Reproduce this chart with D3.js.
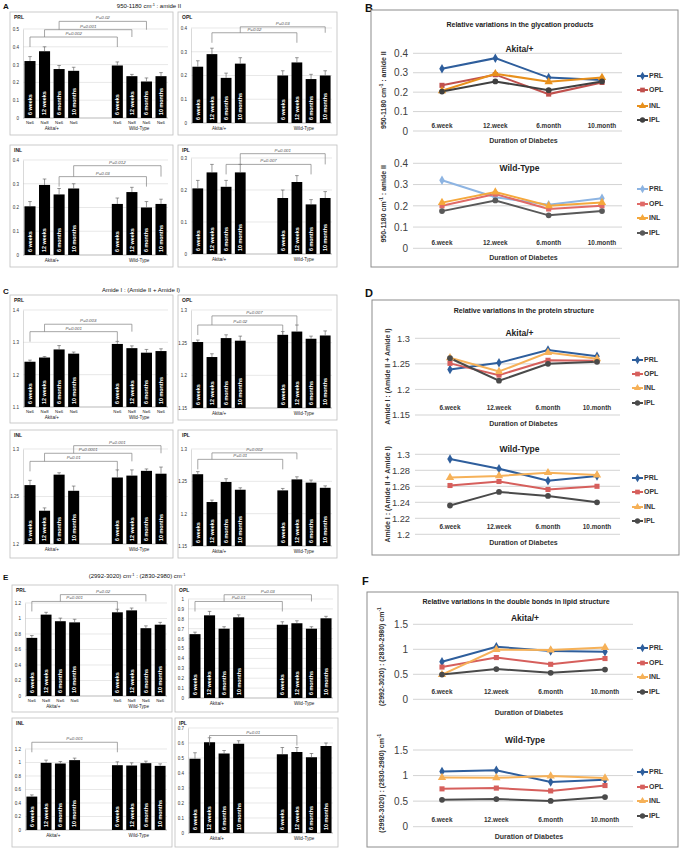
<!DOCTYPE html>
<html><head><meta charset="utf-8">
<script src="https://cdn.jsdelivr.net/npm/d3@7"></script>
<style>body{margin:0;background:#fff} svg{display:block;font-family:"Liberation Sans",Arial,sans-serif}</style>
</head><body><svg id="c" width="685" height="848"></svg>
<script>
// ---------- DATA ----------
const barLabels = ["6 weeks","12 weeks","6 months","10 months"];
const nLabels = ["N=6","N=8","N=6","N=6"];
const groupLabels = ["Akita/+","Wild-Type"];
const layers = ["PRL","OPL","INL","IPL"];
const lineCategories = ["6.week","12.week","6.month","10.month"];

// Panel A : 950-1180 cm-1 : amide II  (Akita 6w,12w,6m,10m, WT 6w,12w,6m,10m)
const A_PRL = [0.32,0.375,0.275,0.265,0.295,0.235,0.205,0.235];
const A_PRL_err = [0.025,0.025,0.02,0.02,0.02,0.01,0.02,0.02];
const A_PRL_ticks = [0,0.1,0.2,0.3,0.4,0.5];
const A_PRL_sig = [[0,4,"P=0.002",0.455],[1,5,"P=0.001",0.496],[2,6,"P=0.02",0.543]];
const A_OPL = [0.237,0.29,0.19,0.25,0.2,0.255,0.185,0.2];
const A_OPL_err = [0.025,0.025,0.02,0.025,0.02,0.02,0.02,0.02];
const A_OPL_ticks = [0,0.1,0.2,0.3,0.4];
const A_OPL_sig = [[1,5,"P=0.02",0.38],[3,7,"P=0.03",0.405]];
const A_INL = [0.205,0.295,0.255,0.28,0.215,0.265,0.2,0.215];
const A_INL_err = [0.02,0.025,0.025,0.02,0.025,0.02,0.025,0.02];
const A_INL_ticks = [0,0.1,0.2,0.3,0.4];
const A_INL_sig = [[2,6,"P=0.03",0.33],[3,7,"P=0.012",0.376]];
const A_IPL = [0.205,0.255,0.21,0.255,0.175,0.225,0.155,0.175];
const A_IPL_err = [0.025,0.025,0.02,0.025,0.025,0.02,0.015,0.02];
const A_IPL_ticks = [0,0.1,0.2,0.3];
const A_IPL_sig = [[2,6,"P=0.007",0.28],[3,7,"P=0.001",0.3135]];

// Panel C : Amide I : (Amide II + Amide I)
const C_PRL = [1.24,1.253,1.278,1.265,1.295,1.282,1.268,1.273];
const C_PRL_err = [0.005,0.003,0.012,0.005,0.008,0.007,0.01,0.007];
const C_PRL_ticks = [1.1,1.2,1.3,1.4];
const C_PRL_sig = [[0,4,"P=0.001",1.333],[1,5,"P=0.003",1.356]];
const C_OPL = [1.251,1.228,1.257,1.253,1.262,1.267,1.256,1.261];
const C_OPL_err = [0.003,0.005,0.005,0.007,0.005,0.01,0.004,0.007];
const C_OPL_ticks = [1.15,1.2,1.25,1.3];
const C_OPL_sig = [[0,4,"P=0.02",1.277],[1,5,"P=0.007",1.291]];
const C_INL = [1.262,1.235,1.273,1.256,1.27,1.272,1.277,1.274];
const C_INL_err = [0.005,0.003,0.002,0.005,0.008,0.006,0.002,0.007];
const C_INL_ticks = [1.2,1.25,1.3];
const C_INL_sig = [[0,4,"P=0.01",1.287],[1,5,"P=0.0001",1.2955],[3,7,"P=0.001",1.3035]];
const C_IPL = [1.261,1.218,1.249,1.237,1.236,1.253,1.248,1.24];
const C_IPL_err = [0.004,0.003,0.005,0.003,0.003,0.004,0.004,0.003];
const C_IPL_ticks = [1.15,1.2,1.25,1.3];
const C_IPL_sig = [[0,4,"P=0.01",1.284],[1,5,"P=0.002",1.294]];

// Panel E : (2992-3020) cm-1 : (2830-2980) cm-1
const E_PRL = [0.75,1.05,0.965,0.95,1.08,1.105,0.875,0.92];
const E_PRL_err = [0.03,0.03,0.04,0.04,0.04,0.03,0.03,0.03];
const E_PRL_ticks = [0,0.2,0.4,0.6,0.8,1,1.2];
const E_PRL_sig = [[0,4,"P=0.001",1.22],[2,6,"P=0.02",1.308]];
const E_OPL = [0.645,0.835,0.7,0.815,0.74,0.755,0.7,0.805];
const E_OPL_err = [0.02,0.04,0.02,0.025,0.03,0.025,0.02,0.02];
const E_OPL_ticks = [0,0.1,0.2,0.3,0.4,0.5,0.6,0.7,0.8,0.9,1];
const E_OPL_sig = [[0,4,"P=0.01",0.975],[2,6,"P=0.03",1.043]];
const E_INL = [0.495,0.995,0.985,1.035,0.96,0.955,0.99,0.95];
const E_INL_err = [0.025,0.04,0.03,0.03,0.05,0.04,0.03,0.03];
const E_INL_ticks = [0,0.2,0.4,0.6,0.8,1,1.2];
const E_INL_sig = [[0,4,"P=0.001",1.3]];
const E_IPL = [0.495,0.605,0.53,0.595,0.525,0.54,0.505,0.58];
const E_IPL_err = [0.04,0.03,0.02,0.02,0.045,0.03,0.025,0.02];
const E_IPL_ticks = [0,0.1,0.2,0.3,0.4,0.5,0.6,0.7];
const E_IPL_sig = [[1,5,"P=0.01",0.65]];

// Line panels (rows: PRL, OPL, INL, IPL; columns: 6.week,12.week,6.month,10.month)
const B_akita = [[0.32,0.375,0.275,0.262],[0.235,0.29,0.19,0.25],[0.207,0.295,0.253,0.275],[0.203,0.255,0.21,0.255]];
const B_wt = [[0.32,0.24,0.205,0.235],[0.2,0.255,0.185,0.2],[0.215,0.265,0.2,0.215],[0.175,0.225,0.155,0.175]];
const B_ticks = [0,0.1,0.2,0.3,0.4];
const D_akita = [[1.239,1.252,1.277,1.265],[1.251,1.228,1.257,1.256],[1.262,1.235,1.272,1.26],[1.261,1.217,1.25,1.254]];
const D_wt = [[1.294,1.282,1.267,1.273],[1.261,1.266,1.256,1.26],[1.271,1.273,1.277,1.274],[1.236,1.253,1.248,1.24]];
const D_ticks_akita = [1.15,1.2,1.25,1.3];
const D_ticks_wt = [1.2,1.22,1.24,1.26,1.28,1.3];
const F_akita = [[0.75,1.05,0.965,0.95],[0.645,0.835,0.7,0.815],[0.495,0.995,0.985,1.035],[0.495,0.605,0.53,0.595]];
const F_wt = [[1.08,1.105,0.875,0.92],[0.74,0.755,0.7,0.805],[0.96,0.955,0.99,0.95],[0.525,0.54,0.505,0.58]];
const F_ticks = [0,0.5,1,1.5];

// ---------- DRAWING ----------
const svg = d3.select("#c");
const fmt = d => String(+(+d).toFixed(2));

function rich(sel, parts, size) {
  let prevSup = false;
  parts.forEach(([t, sup]) => {
    const ts = sel.append("tspan").text(t);
    if (sup) { ts.attr("font-size", size * 0.65).attr("dy", -size * 0.38); }
    else if (prevSup) { ts.attr("dy", size * 0.38); }
    prevSup = sup;
  });
  return sel;
}

function barChart(L, name, vals, errs, ticks, sig, showN) {
  const b = L.box;
  const g = svg.append("g");
  g.append("rect").attr("x", b.x).attr("y", b.y).attr("width", b.w).attr("height", b.h)
    .attr("fill", "#fff").attr("stroke", "#bfbfbf").attr("stroke-width", 0.8);
  g.append("text").attr("x", b.x + 4).attr("y", b.y + 7).text(name)
    .attr("font-size", 5).attr("font-weight", "bold").attr("fill", "#222");
  const y = d3.scaleLinear().domain(d3.extent(ticks)).range([b.y + L.bot, b.y + L.top]);
  const x0 = b.x + 13, x1 = b.x + b.w - 5;
  const x = d3.scaleBand().domain(d3.range(10)).range([x0, x1]).paddingInner(0.24).paddingOuter(0.1);
  const slot = i => (i < 4 ? i : i + 2);
  const cx = i => x(slot(i)) + x.bandwidth() / 2;
  const y0 = y(ticks[0]);
  g.selectAll(".gl").data(ticks).join("line")
    .attr("x1", x0).attr("x2", x1).attr("y1", d => y(d)).attr("y2", d => y(d))
    .attr("stroke", (d, i) => (i === 0 ? "#8c8c8c" : "#d9d9d9")).attr("stroke-width", 0.6);
  const ax = g.append("g").attr("transform", `translate(${x0},0)`)
    .call(d3.axisLeft(y).tickValues(ticks).tickSize(0).tickPadding(4).tickFormat(fmt));
  ax.select(".domain").attr("stroke", "#bfbfbf").attr("stroke-width", 0.6);
  ax.selectAll("text").attr("font-size", 4.5).attr("fill", "#333").attr("font-family", "Liberation Sans");
  // bars
  g.selectAll(".bar").data(vals).join("rect")
    .attr("x", (d, i) => x(slot(i))).attr("width", x.bandwidth())
    .attr("y", d => y(d)).attr("height", d => y0 - y(d)).attr("fill", "#000");
  // error bars
  vals.forEach((v, i) => {
    const c = cx(i), yt = y(v + errs[i]);
    g.append("line").attr("x1", c).attr("x2", c).attr("y1", y(v)).attr("y2", yt)
      .attr("stroke", "#555").attr("stroke-width", 0.6);
    g.append("line").attr("x1", c - 1.8).attr("x2", c + 1.8).attr("y1", yt).attr("y2", yt)
      .attr("stroke", "#555").attr("stroke-width", 0.6);
    const tx = c, ty = y0 - 3;
    g.append("text").attr("x", tx).attr("y", ty).attr("dy", "0.35em")
      .attr("transform", `rotate(-90,${tx},${ty})`).attr("text-anchor", "start")
      .attr("font-size", 5.4).attr("font-weight", "bold").attr("fill", "#fff")
      .text(barLabels[i % 4]);
    if (showN) {
      g.append("text").attr("x", c).attr("y", y0 + 5.5).attr("text-anchor", "middle")
        .attr("font-size", 4.3).attr("fill", "#222").text(nLabels[i % 4]);
    }
  });
  // group labels
  [0, 1].forEach(k => {
    const a = x(slot(k * 4)), e = x(slot(k * 4 + 3)) + x.bandwidth();
    g.append("text").attr("x", (a + e) / 2).attr("y", y0 + (showN ? 11.5 : 7))
      .attr("text-anchor", "middle").attr("font-size", 4.6).attr("fill", "#222").text(groupLabels[k]);
  });
  // significance brackets
  sig.forEach(([a, bb, lab, lv]) => {
    const xa = cx(a), xb = cx(bb), yy = y(lv);
    const lower = sig.filter(s => s[3] < lv).map(s => s[3]);
    const yd = lower.length ? y(d3.max(lower)) : yy + 10;
    g.append("path").attr("d", `M${xa},${yd}V${yy}H${xb}V${yd}`)
      .attr("fill", "none").attr("stroke", "#808080").attr("stroke-width", 0.7);
    g.append("text").attr("x", (xa + xb) / 2).attr("y", yy - 2).attr("text-anchor", "middle")
      .attr("font-size", 4.4).attr("font-style", "italic").attr("fill", "#555").text(lab);
  });
}

const LAY = {
  A_PRL: {box: {x: 10, y: 12, w: 163, h: 123}, top: 17, bot: 106},
  A_OPL: {box: {x: 178, y: 12, w: 159, h: 123}, top: 16, bot: 111},
  A_INL: {box: {x: 10, y: 145, w: 163, h: 122}, top: 15, bot: 110},
  A_IPL: {box: {x: 178, y: 145, w: 159, h: 122}, top: 13, bot: 109},
  C_PRL: {box: {x: 10, y: 295, w: 163, h: 128}, top: 15, bot: 112},
  C_OPL: {box: {x: 178, y: 295, w: 159, h: 125}, top: 15, bot: 113},
  C_INL: {box: {x: 10, y: 430, w: 163, h: 128}, top: 19, bot: 114},
  C_IPL: {box: {x: 178, y: 430, w: 159, h: 128}, top: 19, bot: 116},
  E_PRL: {box: {x: 12, y: 585, w: 160, h: 127}, top: 18, bot: 111},
  E_OPL: {box: {x: 175, y: 585, w: 163, h: 127}, top: 14, bot: 113},
  E_INL: {box: {x: 12, y: 718, w: 160, h: 129}, top: 31, bot: 112},
  E_IPL: {box: {x: 175, y: 718, w: 163, h: 129}, top: 10, bot: 115}
};

barChart(LAY.A_PRL, "PRL", A_PRL, A_PRL_err, A_PRL_ticks, A_PRL_sig, true);
barChart(LAY.A_OPL, "OPL", A_OPL, A_OPL_err, A_OPL_ticks, A_OPL_sig, false);
barChart(LAY.A_INL, "INL", A_INL, A_INL_err, A_INL_ticks, A_INL_sig, false);
barChart(LAY.A_IPL, "IPL", A_IPL, A_IPL_err, A_IPL_ticks, A_IPL_sig, false);
barChart(LAY.C_PRL, "PRL", C_PRL, C_PRL_err, C_PRL_ticks, C_PRL_sig, true);
barChart(LAY.C_OPL, "OPL", C_OPL, C_OPL_err, C_OPL_ticks, C_OPL_sig, false);
barChart(LAY.C_INL, "INL", C_INL, C_INL_err, C_INL_ticks, C_INL_sig, false);
barChart(LAY.C_IPL, "IPL", C_IPL, C_IPL_err, C_IPL_ticks, C_IPL_sig, false);
barChart(LAY.E_PRL, "PRL", E_PRL, E_PRL_err, E_PRL_ticks, E_PRL_sig, true);
barChart(LAY.E_OPL, "OPL", E_OPL, E_OPL_err, E_OPL_ticks, E_OPL_sig, false);
barChart(LAY.E_INL, "INL", E_INL, E_INL_err, E_INL_ticks, E_INL_sig, false);
barChart(LAY.E_IPL, "IPL", E_IPL, E_IPL_err, E_IPL_ticks, E_IPL_sig, false);

// panel letters and titles
[["A", 3, 9, 8], ["B", 365, 12, 11], ["C", 3, 294, 8], ["D", 365, 297, 11], ["E", 3, 580, 8], ["F", 362, 585, 11]]
  .forEach(([t, x, y, s]) => svg.append("text").attr("x", x).attr("y", y).attr("font-size", s)
    .attr("font-weight", "bold").attr("fill", "#111").text(t));
rich(svg.append("text").attr("x", 149).attr("y", 8).attr("text-anchor", "middle").attr("font-size", 6).attr("fill", "#111"),
  [["950-1180 cm", 0], ["-1", 1], [" : amide II", 0]], 6);
rich(svg.append("text").attr("x", 141).attr("y", 292).attr("text-anchor", "middle").attr("font-size", 6).attr("fill", "#111"),
  [["Amide I : (Amide II + Amide I)", 0]], 6);
rich(svg.append("text").attr("x", 137).attr("y", 578).attr("text-anchor", "middle").attr("font-size", 6).attr("fill", "#111"),
  [["(2992-3020) cm", 0], ["-1", 1], [" : (2830-2980) cm", 0], ["-1", 1]], 6);

// line charts
const symbols = [d3.symbolDiamond, d3.symbolSquare, d3.symbolTriangle, d3.symbolCircle];
function lineChart(P) {
  const b = P.box;
  const g = svg.append("g");
  g.append("rect").attr("x", b.x).attr("y", b.y).attr("width", b.w).attr("height", b.h)
    .attr("fill", "#fff").attr("stroke", "#8c8c8c").attr("stroke-width", 1);
  g.append("text").attr("x", P.titleX).attr("y", P.titleY).attr("dy", "0.35em").attr("text-anchor", "middle")
    .attr("font-size", 7).attr("font-weight", "bold").attr("fill", "#222").text(P.title);
  const x = d3.scalePoint().domain(lineCategories).range(P.ptX);
  P.subs.forEach(s => {
    const y = d3.scaleLinear().domain(d3.extent(s.ticks)).range(s.yr);
    g.selectAll(null).data(s.ticks).join("line")
      .attr("x1", P.gridX[0]).attr("x2", P.gridX[1]).attr("y1", d => y(d)).attr("y2", d => y(d))
      .attr("stroke", "#c8c8c8").attr("stroke-width", 0.8);
    const ax = g.append("g").attr("transform", `translate(${P.gridX[0]},0)`)
      .call(d3.axisLeft(y).tickValues(s.ticks).tickSize(0).tickPadding(5).tickFormat(fmt));
    ax.select(".domain").remove();
    ax.selectAll("text").attr("font-size", P.tickSize || 10).attr("fill", "#404040").attr("font-family", "Liberation Sans");
    g.append("text").attr("x", (P.gridX[0] + P.gridX[1]) / 2 + 2).attr("y", s.titleY).attr("dy", "0.35em")
      .attr("text-anchor", "middle").attr("font-size", 8.5).attr("font-weight", "bold").attr("fill", "#222").text(s.name);
    lineCategories.forEach(c => g.append("text").attr("x", x(c)).attr("y", s.xlabY).attr("dy", "0.35em")
      .attr("text-anchor", "middle").attr("font-size", 6.4).attr("font-weight", "bold").attr("fill", "#333").text(c));
    g.append("text").attr("x", (P.gridX[0] + P.gridX[1]) / 2 + 6).attr("y", s.durY).attr("dy", "0.35em")
      .attr("text-anchor", "middle").attr("font-size", 7).attr("font-weight", "bold").attr("fill", "#333").text("Duration of Diabetes");
    const ym = (s.yr[0] + s.yr[1]) / 2;
    rich(g.append("text").attr("transform", `translate(${P.yTitleX},${ym + (P.yTitleShift || 0)}) rotate(-90)`)
      .attr("text-anchor", "middle").attr("font-size", 7).attr("font-weight", "bold").attr("fill", "#333"), P.yTitle, 7);
    const line = d3.line().x((d, i) => x(lineCategories[i])).y(d => y(d));
    s.data.forEach((row, k) => {
      g.append("path").attr("d", line(row)).attr("fill", "none").attr("stroke", s.colors[k]).attr("stroke-width", 2);
    });
    s.data.forEach((row, k) => {
      row.forEach((v, i) => g.append("path").attr("d", d3.symbol(symbols[k], k === 2 ? 30 : 26)())
        .attr("transform", `translate(${x(lineCategories[i])},${y(v)})`).attr("fill", s.colors[k]));
    });
    layers.forEach((nm, k) => {
      const ly = s.legY[k];
      g.append("line").attr("x1", P.legX).attr("x2", P.legX + 11).attr("y1", ly).attr("y2", ly)
        .attr("stroke", s.colors[k]).attr("stroke-width", 2);
      g.append("path").attr("d", d3.symbol(symbols[k], 22)()).attr("transform", `translate(${P.legX + 5.5},${ly})`)
        .attr("fill", s.colors[k]);
      g.append("text").attr("x", P.legX + 12).attr("y", ly).attr("dy", "0.35em").attr("font-size", 7)
        .attr("font-weight", "bold").attr("fill", "#333").text(nm);
    });
  });
}

const darkPal = ["#2E5E9C", "#C0504D", "#E8901C", "#404040"];
const lightPal = ["#8DB4E2", "#E06A67", "#F5A83C", "#595959"];
const midPal = ["#2E5E9C", "#D65F5C", "#F6B158", "#4A4A4A"];

lineChart({
  box: {x: 371, y: 10, w: 307, h: 257}, title: "Relative variations in the glycation products", titleX: 520, titleY: 25,
  gridX: [413, 622], ptX: [442, 602], legX: 637, yTitleX: 386, yTitleShift: -2,
  yTitle: [["950-1180 cm", 0], ["-1", 1], [" : amide II", 0]],
  subs: [
    {name: "Akita/+", data: B_akita, colors: darkPal, ticks: B_ticks, yr: [131, 53.3], titleY: 49, xlabY: 126, durY: 141, legY: [76, 90, 106, 120]},
    {name: "Wild-Type", data: B_wt, colors: lightPal, ticks: B_ticks, yr: [248.3, 163.3], titleY: 168, xlabY: 243, durY: 258, legY: [189, 204, 218, 233]}
  ]
});
lineChart({
  box: {x: 372, y: 300, w: 307, h: 255}, title: "Relative variations in the protein structure", titleX: 524, titleY: 311,
  gridX: [415, 620], ptX: [450, 597], legX: 632, yTitleX: 390, tickSize: 9.3,
  yTitle: [["Amide I : (Amide II + Amide I)", 0]],
  subs: [
    {name: "Akita/+", data: D_akita, colors: midPal, ticks: D_ticks_akita, yr: [415, 338.3], titleY: 333, xlabY: 408, durY: 424, legY: [360, 374, 388, 403]},
    {name: "Wild-Type", data: D_wt, colors: midPal, ticks: D_ticks_wt, yr: [534.3, 454.3], titleY: 449, xlabY: 527, durY: 543, legY: [478, 492, 507, 521]}
  ]
});
lineChart({
  box: {x: 367, y: 592, w: 311, h: 255}, title: "Relative variations in the double bonds in lipid structure", titleX: 516, titleY: 602,
  gridX: [413, 633], ptX: [442, 605], legX: 637, yTitleX: 384, yTitleShift: -5,
  yTitle: [["(2992-3020) : (2830-2980) cm", 0], ["-1", 1]],
  subs: [
    {name: "Akita/+", data: F_akita, colors: midPal, ticks: F_ticks, yr: [699.3, 624.3], titleY: 618, xlabY: 692, durY: 713, legY: [648, 663, 677, 692]},
    {name: "Wild-Type", data: F_wt, colors: midPal, ticks: F_ticks, yr: [826.7, 750], titleY: 740, xlabY: 820, durY: 837, legY: [772, 787, 801, 816]}
  ]
});
</script></body></html>
